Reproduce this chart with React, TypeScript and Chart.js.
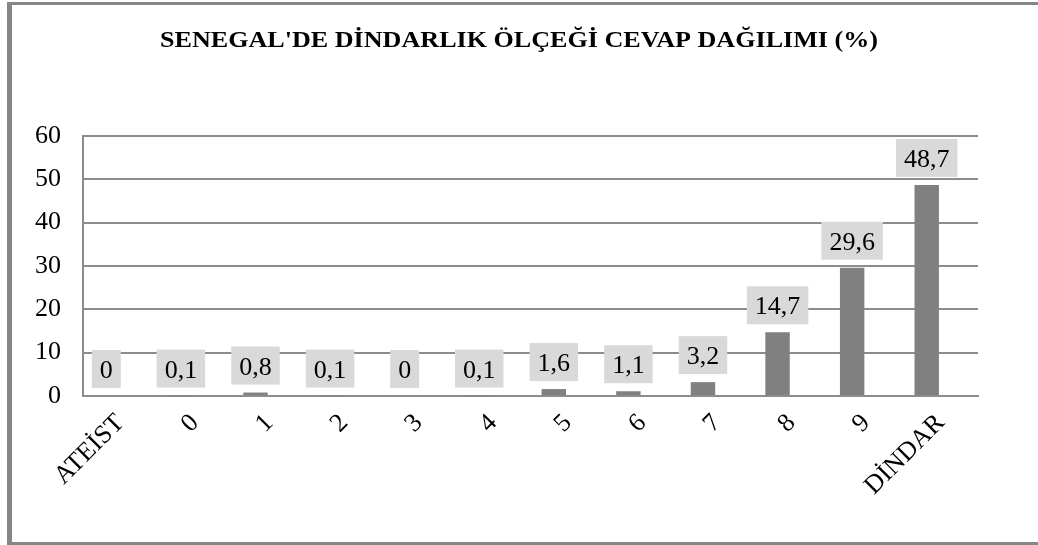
import React, { useEffect, useRef } from 'react';
import { Chart, registerables } from 'chart.js';

Chart.register(...registerables);

const categories = ['ATEİST', '0', '1', '2', '3', '4', '5', '6', '7', '8', '9', 'DİNDAR'];
const values = [0, 0.1, 0.8, 0.1, 0, 0.1, 1.6, 1.1, 3.2, 14.7, 29.6, 48.7];
const spacerValues = categories.map(() => null);
const yMin = 0;
const yMax = 60;
const yStep = 10;
const titleText = "SENEGAL'DE DİNDARLIK ÖLÇEĞİ CEVAP DAĞILIMI (%)";

const SERIF = '"Liberation Serif", "Times New Roman", serif';
const GRID = '#8c8c8c';

const fmt = (v: number) => String(v).replace('.', ',');

const labelPlugin = {
  id: 'boxLabels',
  afterDatasetsDraw(chart: any) {
    const meta = chart.getDatasetMeta(0);
    const ctx = chart.ctx;
    ctx.save();
    ctx.font = `26px ${SERIF}`;
    meta.data.forEach((bar: any, i: number) => {
      const txt = fmt(values[i]);
      const w = ctx.measureText(txt).width + 16;
      const h = 38;
      const bottom = bar.y - 8;
      ctx.fillStyle = '#d9d9d9';
      ctx.fillRect(bar.x - w / 2, bottom - h, w, h);
      ctx.fillStyle = '#000';
      ctx.textAlign = 'center';
      ctx.textBaseline = 'alphabetic';
      ctx.fillText(txt, bar.x, bottom - h / 2 + 9);
    });
    ctx.restore();
  },
};

const titlePlugin = {
  id: 'customTitle',
  afterDraw(chart: any) {
    const ctx = chart.ctx;
    ctx.save();
    ctx.font = `bold 23px ${SERIF}`;
    const w = ctx.measureText(titleText).width;
    const target = 718;
    const sx = target / w;
    ctx.translate(519, 47);
    ctx.scale(sx, 1);
    ctx.fillStyle = '#000';
    ctx.textAlign = 'center';
    ctx.textBaseline = 'alphabetic';
    ctx.fillText(titleText, 0, 0);
    ctx.restore();
  },
};

export default function App() {
  const ref = useRef<HTMLCanvasElement>(null);

  useEffect(() => {
    if (!ref.current) return;
    const chart = new Chart(ref.current, {
      type: 'bar',
      data: {
        labels: categories,
        datasets: [
          {
            data: values,
            backgroundColor: '#808080',
            borderWidth: 0,
            categoryPercentage: 0.75,
            barPercentage: 0.874,
          },
          {
            data: spacerValues as any,
            backgroundColor: 'rgba(0,0,0,0)',
            borderWidth: 0,
            categoryPercentage: 0.75,
            barPercentage: 0.874,
          },
        ],
      },
      options: {
        responsive: false,
        animation: false,
        devicePixelRatio: 1,
        layout: { padding: { top: 136, left: 0, right: 60, bottom: 0 } },
        plugins: {
          legend: { display: false },
          title: { display: false },
          tooltip: { enabled: false },
        },
        scales: {
          x: {
            grid: { display: false, drawTicks: false },
            border: { display: true, color: GRID, width: 2 },
            ticks: {
              color: '#000',
              font: { family: SERIF, size: 26 },
              minRotation: 45,
              maxRotation: 45,
              autoSkip: false,
              padding: 12,
            },
            afterFit: (s: any) => {
              s.height = 149;
            },
          },
          y: {
            min: yMin,
            max: yMax,
            grid: { color: GRID, lineWidth: 2, drawTicks: false },
            border: { display: true, color: GRID, width: 2 },
            ticks: {
              stepSize: yStep,
              color: '#000',
              font: { family: SERIF, size: 26 },
              padding: 22,
            },
            afterFit: (s: any) => {
              s.width = 83;
            },
          },
        },
      },
      plugins: [labelPlugin, titlePlugin],
    });
    return () => chart.destroy();
  }, []);

  return (
    <div
      style={{
        position: 'fixed',
        left: 0,
        top: 0,
        width: 1038,
        height: 545,
        overflow: 'hidden',
        background: '#fff',
      }}
    >
      <canvas
        ref={ref}
        width={1038}
        height={545}
        style={{ position: 'absolute', left: 0, top: 0, width: 1038, height: 545 }}
      />
      <div
        style={{
          position: 'absolute',
          left: 7,
          top: 2,
          width: 1100,
          height: 543,
          boxSizing: 'border-box',
          borderLeft: '5px solid #868686',
          borderTop: '3px solid #868686',
          borderBottom: '3px solid #868686',
          borderRight: '3px solid #868686',
          pointerEvents: 'none',
        }}
      />
    </div>
  );
}
